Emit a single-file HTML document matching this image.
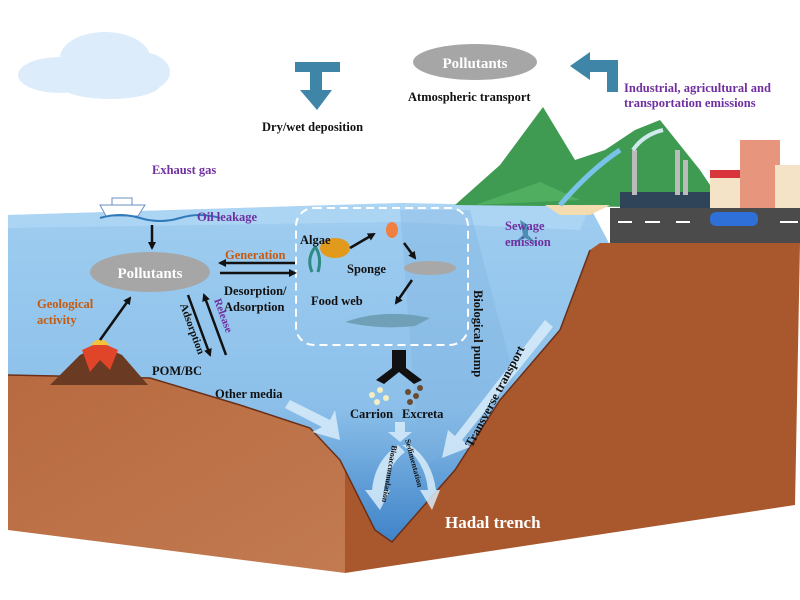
<!DOCTYPE html>
<html><head><meta charset="utf-8"><style>
html,body{margin:0;padding:0;background:#fff;}
svg{display:block;}
text{font-family:"Liberation Serif",serif;font-weight:bold;}
</style></head><body>
<svg width="800" height="600" viewBox="0 0 800 600" xmlns="http://www.w3.org/2000/svg">
<defs>
<linearGradient id="sea" x1="0" y1="0" x2="0" y2="1">
<stop offset="0" stop-color="#9fcdf0"/><stop offset="0.6" stop-color="#8cc0ea"/><stop offset="1" stop-color="#3f83c8"/>
</linearGradient>
<linearGradient id="lland" x1="0" y1="0" x2="1" y2="1">
<stop offset="0" stop-color="#b86a40"/><stop offset="1" stop-color="#c27a50"/>
</linearGradient>
<marker id="ah" markerWidth="8" markerHeight="8" refX="6" refY="4" orient="auto" markerUnits="userSpaceOnUse">
<path d="M0,0 L8,4 L0,8 z" fill="#111"/></marker>
</defs>
<!-- cloud -->
<g fill="#dcecfa">
<ellipse cx="60" cy="75" rx="42" ry="18"/><ellipse cx="105" cy="58" rx="45" ry="26"/><ellipse cx="140" cy="72" rx="30" ry="20"/><ellipse cx="110" cy="85" rx="50" ry="14"/>
</g>
<!-- ocean -->
<path d="M8,215 L400,203 L590,207 L610,245 L590,250 L560,330 L500,400 L455,470 L392,542 L375,530 L340,460 L310,428 L240,405 L150,378 L8,375 Z" fill="url(#sea)"/>
<path d="M8,215 L400,203 L590,207 L580,230 L400,222 L8,228Z" fill="#b5dbf6" opacity="0.6"/>
<path d="M400,210 L470,210 L520,400 L420,470 Z" fill="#7fb3e0" opacity="0.35"/>
<!-- land -->
<path d="M8,375 L150,378 L240,405 L310,428 L340,460 L345,470 L345,573 L8,530 Z" fill="url(#lland)"/>
<path d="M345,470 L375,530 L392,542 L455,470 L500,400 L560,330 L590,250 L600,243 L800,243 L795,505 L345,573 Z" fill="#a9572c"/>
<path d="M8,375 L150,378 L240,405 L310,428 L340,460 L375,530 L392,542 L455,470 L500,400 L560,330 L590,250" fill="none" stroke="#6a2f18" stroke-width="1.5"/>
<!-- mountains -->
<path d="M455,205 L500,165 L543,107 L575,160 L605,150 L635,130 L660,120 L700,170 L720,200 L720,208 Z" fill="#3f9a52"/>
<path d="M475,205 L540,182 L580,200Z" fill="#4fae60"/>
<!-- land surface / road -->
<path d="M545,205 L610,205 L590,215 L560,215Z" fill="#f3dcb0"/>
<rect x="610" y="208" width="190" height="35" fill="#4b4b4b"/>
<g stroke="#fff" stroke-width="2"><line x1="618" y1="222" x2="632" y2="222"/><line x1="645" y1="222" x2="660" y2="222"/><line x1="676" y1="222" x2="690" y2="222"/><line x1="780" y1="222" x2="798" y2="222"/></g>
<!-- factory -->
<rect x="620" y="192" width="90" height="16" fill="#2f4458"/><rect x="632" y="150" width="5" height="45" fill="#bbb"/><rect x="675" y="150" width="5" height="45" fill="#bbb"/><rect x="683" y="160" width="5" height="35" fill="#bbb"/>
<path d="M633,150 q10,-15 30,-20" stroke="#cfe9ee" stroke-width="4" fill="none"/>
<!-- buildings -->
<rect x="710" y="172" width="35" height="36" fill="#f5e3c8"/><rect x="710" y="170" width="35" height="8" fill="#d7343b"/>
<rect x="740" y="140" width="40" height="68" fill="#e7957d"/><rect x="775" y="165" width="25" height="43" fill="#f5e3c8"/>
<!-- car -->
<rect x="710" y="212" width="48" height="14" rx="6" fill="#2f6fd8"/>
<!-- river -->
<path d="M560,205 Q590,170 620,150" stroke="#79c3e8" stroke-width="5" fill="none"/>
<!-- ship -->
<path d="M100,205 L145,205 L138,216 L106,216Z" fill="#fff" stroke="#6a8fc0"/>
<rect x="112" y="198" width="20" height="7" fill="#fff" stroke="#6a8fc0"/>
<path d="M100,218 q20,-6 40,0 t40,0 t40,0" stroke="#2f7ab8" stroke-width="2" fill="none"/>
<!-- volcano -->
<path d="M50,385 L80,355 L100,345 L122,355 L148,385 Z" fill="#6a3a22"/>
<path d="M82,350 L100,342 L118,350 L110,370 L100,360 L90,372Z" fill="#e0452a"/>
<path d="M90,345 L110,345 L104,340 L96,340Z" fill="#f4c23c"/>
<!-- food web box -->
<rect x="296" y="208" width="172" height="137" rx="18" fill="none" stroke="#fff" stroke-width="2" stroke-dasharray="8,5"/>
<!-- creatures -->
<ellipse cx="335" cy="248" rx="15" ry="10" fill="#e19a1c"/>
<path d="M312,272 q-6,-14 4,-26 M318,272 q4,-14 -2,-24" stroke="#2e8a84" stroke-width="3" fill="none"/>
<ellipse cx="430" cy="268" rx="26" ry="7" fill="#a8a8a8"/>
<path d="M345,322 Q385,308 430,318 L415,326 Q380,330 345,322Z" fill="#6fa0b8"/>
<ellipse cx="392" cy="230" rx="6" ry="8" fill="#f08040"/>
<!-- carrion/excreta -->
<g fill="#f5eec0"><circle cx="372" cy="395" r="3"/><circle cx="380" cy="390" r="3"/><circle cx="386" cy="398" r="3"/><circle cx="377" cy="402" r="3"/></g>
<g fill="#6a4b2f"><circle cx="408" cy="392" r="3"/><circle cx="416" cy="396" r="3"/><circle cx="410" cy="402" r="3"/><circle cx="420" cy="388" r="3"/></g>
<!-- arrows -->
<g stroke="#111" stroke-width="2.5" fill="none" marker-end="url(#ah)">
<line x1="152" y1="225" x2="152" y2="248"/>
<line x1="295" y1="263" x2="220" y2="263"/>
<line x1="220" y1="273" x2="295" y2="273"/>
<line x1="100" y1="340" x2="130" y2="298"/>
<line x1="188" y1="295" x2="210" y2="355"/>
<line x1="226" y1="355" x2="204" y2="295"/>
<line x1="350" y1="248" x2="374" y2="234"/>
<line x1="404" y1="243" x2="415" y2="258"/>
<line x1="412" y1="280" x2="396" y2="303"/>
</g>
<path d="M392,350 L406,350 L406,368 L422,380 L414,384 L399,372 L384,384 L376,380 L392,368Z" fill="#111"/>
<!-- light arrows -->
<g fill="#d8ecfa" opacity="0.85">
<path d="M290,400 L330,420 L335,410 L340,440 L312,432 L322,427 L285,408Z"/>
<path d="M395,422 L405,422 L405,432 L412,432 L400,442 L388,432 L395,432Z"/>
<path d="M545,320 L553,327 L462,440 L470,447 L442,458 L448,430 L455,436Z"/>
<path d="M398,445 Q375,460 372,490 L365,490 L380,510 L390,490 L384,490 Q388,465 405,452Z"/>
<path d="M402,445 Q425,460 428,490 L420,490 L432,510 L440,490 L436,490 Q432,460 410,445Z"/>
</g>
<!-- blue bent arrows -->
<path d="M295,62 L340,62 L340,72 L322,72 L322,90 L332,90 L317,110 L300,90 L310,90 L310,72 L295,72Z" fill="#3f85a8"/>
<path d="M618,60 L618,92 L607,92 L607,72 L590,72 L590,80 L570,66 L590,52 L590,60Z" fill="#3f85a8"/>
<path d="M520,220 L523,235 L512,245 L525,238 L538,245 L528,235 L528,225Z" fill="#4b8fb5"/>
<!-- ellipses -->
<ellipse cx="475" cy="62" rx="62" ry="18" fill="#a6a6a6"/>
<text x="475" y="68" font-size="15" fill="#fff" text-anchor="middle">Pollutants</text>
<ellipse cx="150" cy="272" rx="60" ry="20" fill="#a6a6a6"/>
<text x="150" y="278" font-size="15" fill="#fff" text-anchor="middle">Pollutants</text>
<!-- labels -->
<g font-size="12.5" fill="#111">
<text x="408" y="101">Atmospheric transport</text>
<text x="262" y="131">Dry/wet deposition</text>
<text x="224" y="295">Desorption/</text>
<text x="224" y="311">Adsorption</text>
<text x="300" y="244">Algae</text>
<text x="347" y="273">Sponge</text>
<text x="311" y="305">Food web</text>
<text x="152" y="375">POM/BC</text>
<text x="215" y="398">Other media</text>
<text x="350" y="418">Carrion</text>
<text x="402" y="418">Excreta</text>
<text transform="translate(474,290) rotate(90)">Biological pump</text>
<text transform="translate(472,448) rotate(-62)">Transverse transport</text>
<text transform="translate(180,305) rotate(70)" font-size="11">Adsorption</text>
<text transform="translate(405,440) rotate(75)" font-size="8">Sedimentation</text>
<text transform="translate(392,445) rotate(100)" font-size="8">Bioaccumulation</text>
</g>
<g font-size="12.5" fill="#7030a0">
<text x="624" y="92">Industrial, agricultural and</text>
<text x="624" y="107">transportation emissions</text>
<text x="152" y="174">Exhaust gas</text>
<text x="197" y="221">Oil leakage</text>
<text x="505" y="230">Sewage</text>
<text x="505" y="246">emission</text>
<text transform="translate(214,300) rotate(70)" font-size="11">Release</text>
</g>
<g font-size="12.5" fill="#c55a11">
<text x="225" y="259">Generation</text>
<text x="37" y="308">Geological</text>
<text x="37" y="324">activity</text>
</g>
<text x="445" y="528" font-size="17" fill="#fff">Hadal trench</text>
</svg>
</body></html>
